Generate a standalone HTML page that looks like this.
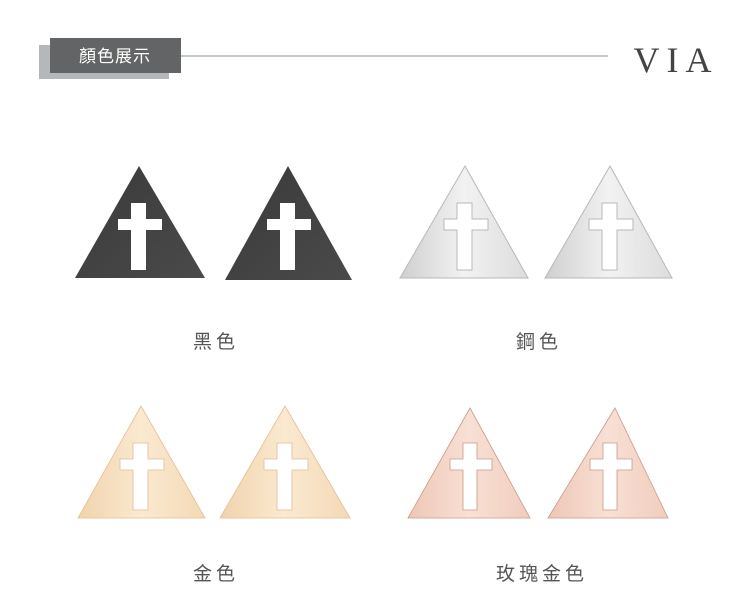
<!DOCTYPE html>
<html><head><meta charset="utf-8"><style>
html,body{margin:0;padding:0;background:#fff;}
body{width:750px;height:603px;overflow:hidden;}
</style></head><body>
<svg width="750" height="603" viewBox="0 0 750 603" xmlns="http://www.w3.org/2000/svg">
<defs>
<linearGradient id="blk" x1="0" y1="0" x2="1" y2="1"><stop offset="0" stop-color="#3a3a3a"/><stop offset="1" stop-color="#4a4a4a"/></linearGradient>
<linearGradient id="sil" x1="0" y1="0" x2="1" y2="0"><stop offset="0" stop-color="#cfcfcf"/><stop offset="0.5" stop-color="#f2f2f2"/><stop offset="1" stop-color="#dcdcdc"/></linearGradient>
<linearGradient id="gld" x1="0" y1="0" x2="1" y2="0"><stop offset="0" stop-color="#f0d3ad"/><stop offset="0.5" stop-color="#fbe9d0"/><stop offset="1" stop-color="#f3d9b6"/></linearGradient>
<linearGradient id="rse" x1="0" y1="0" x2="1" y2="0"><stop offset="0" stop-color="#eec7b6"/><stop offset="0.5" stop-color="#f8e0d4"/><stop offset="1" stop-color="#f0cdbd"/></linearGradient>
</defs>
<rect x="39" y="45" width="130" height="34" fill="#b4b8ba"/>
<rect x="50" y="38" width="131" height="35" fill="#636465"/>
<text x="115" y="62" font-family="Liberation Sans, Noto Sans CJK TC, sans-serif" font-size="17" fill="#fff" text-anchor="middle" letter-spacing="1">顏色展示</text>
<line x1="181" y1="56" x2="608" y2="56" stroke="#b0b4b6" stroke-width="1.5"/>
<text x="676" y="72" font-family="Liberation Serif, serif" font-size="36" fill="#444" text-anchor="middle" letter-spacing="7">VIA</text>
<g font-family="Liberation Sans, Noto Sans CJK TC, sans-serif" font-size="19" fill="#555" text-anchor="middle" letter-spacing="4">
<text x="216" y="348">黑色</text>
<text x="539" y="348">鋼色</text>
<text x="216" y="580">金色</text>
<text x="542" y="580">玫瑰金色</text>
</g>
<path fill-rule="evenodd" fill="url(#blk)" d="M139 166 L205 278 L75 278 Z M131 203 h15 v16 h16 v11 h-16 v40 h-15 v-40 h-13 v-11 h13 Z"/>
<path fill-rule="evenodd" fill="url(#blk)" d="M288 166 L352 280 L225 280 Z M280 203 h15 v16 h16 v11 h-16 v40 h-15 v-40 h-13 v-11 h13 Z"/>
<path fill-rule="evenodd" fill="url(#sil)" stroke="#b8b8b8" stroke-width="1" d="M465 166 L528 278 L400 278 Z M457 203 h15 v16 h16 v11 h-16 v40 h-15 v-40 h-13 v-11 h13 Z"/>
<path fill-rule="evenodd" fill="url(#sil)" stroke="#b8b8b8" stroke-width="1" d="M610 166 L672 278 L545 278 Z M602 203 h15 v16 h16 v11 h-16 v40 h-15 v-40 h-13 v-11 h13 Z"/>
<path fill-rule="evenodd" fill="url(#gld)" stroke="#e2bf92" stroke-width="0.8" d="M141 406 L205 518 L78 518 Z M133 443 h15 v16 h16 v11 h-16 v40 h-15 v-40 h-13 v-11 h13 Z"/>
<path fill-rule="evenodd" fill="url(#gld)" stroke="#e2bf92" stroke-width="0.8" d="M285 406 L350 518 L220 518 Z M277 443 h15 v16 h16 v11 h-16 v40 h-15 v-40 h-13 v-11 h13 Z"/>
<path fill-rule="evenodd" fill="url(#rse)" stroke="#c99a88" stroke-width="0.8" d="M470 408 L530 518 L408 518 Z M463 443 h14 v16 h15 v11 h-15 v40 h-14 v-40 h-13 v-11 h13 Z"/>
<path fill-rule="evenodd" fill="url(#rse)" stroke="#c99a88" stroke-width="0.8" d="M615 408 L668 518 L548 518 Z M603 443 h14 v16 h15 v11 h-15 v40 h-14 v-40 h-13 v-11 h13 Z"/>
</svg>
</body></html>
